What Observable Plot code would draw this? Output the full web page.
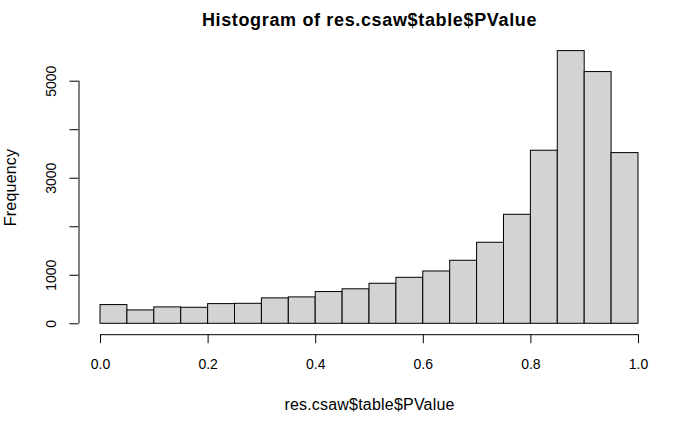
<!DOCTYPE html>
<html>
<head>
<meta charset="utf-8">
<script src="https://cdn.jsdelivr.net/npm/d3@7"></script>
<script src="https://cdn.jsdelivr.net/npm/@observablehq/plot@0.6"></script>
<style>
  html, body { margin: 0; padding: 0; background: #fff; }
  #chart svg { display: block; }
  .title-text text { letter-spacing: 0.65px; }
  .lab-text text { letter-spacing: 0.2px; }
</style>
</head>
<body>
<div id="chart"></div>
<script>
// Histogram break points (bin edges)
const breaks = [0.00, 0.05, 0.10, 0.15, 0.20, 0.25, 0.30, 0.35, 0.40, 0.45, 0.50,
                0.55, 0.60, 0.65, 0.70, 0.75, 0.80, 0.85, 0.90, 0.95, 1.00];
// Counts per bin
const counts = [386, 276, 338, 330, 406, 412, 524, 544, 654, 711,
                825, 948, 1078, 1299, 1670, 2247, 3567, 5620, 5188, 3518];
const xTicks = [0, 0.2, 0.4, 0.6, 0.8, 1.0];
const yTicks = [0, 1000, 2000, 3000, 4000, 5000];
const yTickLabels = [0, 1000, 3000, 5000];
const titleText = "Histogram of res.csaw$table$PValue";
const xLabel = "res.csaw$table$PValue";
const yLabel = "Frequency";

const bins = counts.map((c, i) => ({x1: breaks[i], x2: breaks[i + 1], count: c}));

// R-style 4% axis extension
const xmin = d3.min(breaks), xmax = d3.max(breaks);
const ymin = 0, ymax = d3.max(counts);
const xPad = 0.04 * (xmax - xmin), yPad = 0.04 * (ymax - ymin);

const font = "'Liberation Sans', Arial, Helvetica, sans-serif";

const chart = Plot.plot({
  width: 700,
  height: 432,
  marginLeft: 78.5,
  marginRight: 40.5,
  marginTop: 39.7,
  marginBottom: 97.8,
  style: {fontFamily: font, fontSize: "14px", background: "#fff", color: "#000"},
  x: {domain: [xmin - xPad, xmax + xPad]},
  y: {domain: [ymin - yPad, ymax + yPad]},
  marks: [
    Plot.rectY(bins, {x1: "x1", x2: "x2", y1: 0, y2: "count",
      fill: "#d3d3d3", stroke: "#000", strokeWidth: 1, insetLeft: 0, insetRight: 0}),
    // y axis line (first to last tick) and ticks
    Plot.ruleX([xmin - xPad], {y1: d3.min(yTicks), y2: d3.max(yTicks), stroke: "#000", strokeWidth: 1}),
    Plot.axisY({ticks: yTicks, tickSize: 9, tickFormat: () => "", label: null, stroke: "#000", strokeWidth: 1}),
    Plot.text(yTickLabels, {y: d => d, text: d => String(d), frameAnchor: "left", dx: -27,
      rotate: -90, textAnchor: "middle", lineAnchor: "middle", fontSize: 14, fill: "#000"}),
    // x axis line and ticks
    Plot.ruleY([ymin - yPad], {x1: d3.min(xTicks), x2: d3.max(xTicks), stroke: "#000", strokeWidth: 1}),
    Plot.axisX({ticks: xTicks, tickSize: 9, tickFormat: () => "", label: null, stroke: "#000", strokeWidth: 1}),
    Plot.text(xTicks, {x: d => d, text: d => d.toFixed(1), frameAnchor: "bottom", dy: 29.6,
      textAnchor: "middle", lineAnchor: "middle", fontSize: 14, fill: "#000"}),
    // axis titles
    Plot.text([xLabel], {x: (xmin + xmax) / 2, text: d => d, frameAnchor: "bottom", dy: 70,
      textAnchor: "middle", lineAnchor: "middle", fontSize: 16, fill: "#000", className: "lab-text"}),
    Plot.text([yLabel], {y: (ymin + ymax) / 2, text: d => d, frameAnchor: "left", dx: -68,
      rotate: -90, textAnchor: "middle", lineAnchor: "middle", fontSize: 16, fill: "#000", className: "lab-text"}),
    // main title
    Plot.text([titleText], {x: (xmin + xmax) / 2, text: d => d, frameAnchor: "top", dy: -19.7,
      textAnchor: "middle", lineAnchor: "middle", fontSize: 18, fontWeight: "bold", fill: "#000", className: "title-text"})
  ]
});
document.getElementById("chart").appendChild(chart);
</script>
</body>
</html>
